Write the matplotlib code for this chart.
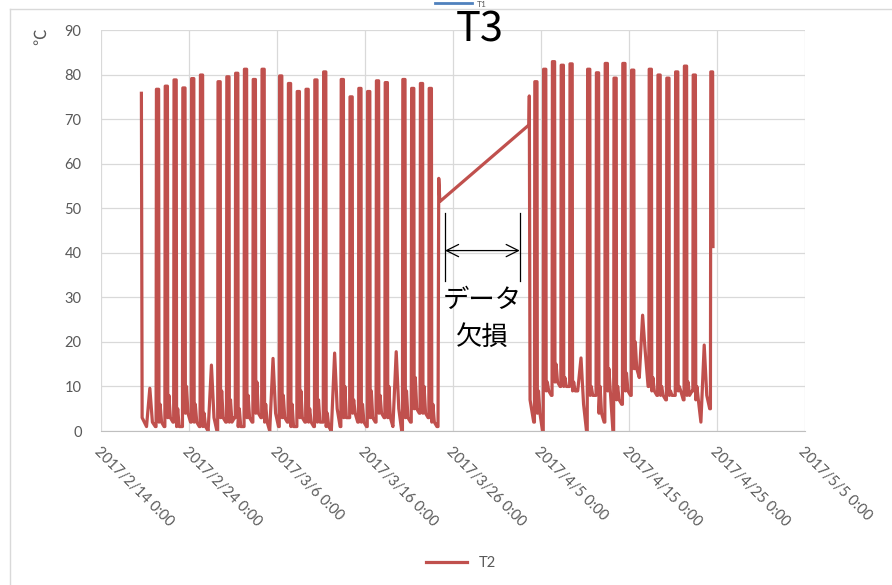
import datetime as dt
import matplotlib
matplotlib.use('Agg')
import matplotlib.pyplot as plt
from matplotlib.lines import Line2D

plt.rcParams['font.family'] = ['Lato', 'Noto Sans CJK JP', 'DejaVu Sans']

# ---- data ----
# section 1: 2017/2/19 .. 3/23, one entry per day (None = no morning peak, Sunday)
days1_start = dt.datetime(2017, 2, 19)
night1 = [1, 1, 1, 2, 1, 2, 1, 0, 0, 2, 3, 1, 2, 3, 0, 1, 2, 1, 2, 1, 2, 0,
          1, 3, 2, 1, 2, 3, 1, 0, 2, 4, 3]
peak1 = [None, 76.7, 77.4, 78.8, 77.0, 79.1, 79.9, None, 78.4, 79.5, 80.3,
         81.2, 78.9, 81.2, None, 79.7, 78.0, 76.2, 76.7, 78.8, 80.6, None,
         78.9, 75.0, 76.9, 76.2, 78.6, 78.2, None, 78.9, 76.9, 78.0, 76.9]
after1 = [9.6, 6, 8, 5, 10, 6, 4, 14.8, 9, 7, 5, 8, 11, 6, 16.3, 8, 6, 9, 5,
          7, 4, 17.5, 10, 7, 6, 9, 8, 10, 17.8, 9, 12, 10, 6]
eve1 = [2, 2, 3, 1, 4, 2, 1, 3, 3, 2, 1, 3, 4, 2, 4, 3, 1, 3, 2, 2, 1, 5,
        3, 4, 2, 3, 4, 3, 5, 3, 5, 4, 2]

# section 2: 2017/4/4 .. 4/23
days2_start = dt.datetime(2017, 4, 4)
night2 = [2, 0, 8, 10, 10, 9, 0, 8, 2, 0, 6, 8, 12, 10, 8, 7, 8, 7, 9, 2]
peak2 = [78.4, 81.2, 82.9, 82.1, 82.4, None, 81.2, 80.4, 82.5, 79.2, 82.5,
         81.0, None, 81.2, 79.9, 79.2, 80.6, 81.9, 79.9, None]
after2 = [9, 11, 15, 12, 11, 16.4, 10, 10, 14, 10, 13, 20, 26.0, 12, 10, 9,
          10, 11, 10, 19.3]
eve2 = [4, 9, 11, 10, 9, 6, 8, 4, 9, 7, 9, 14, 18, 9, 8, 8, 9, 8, 7, 8]

# partial days at the edges of the record (time, value)
head_t = [dt.datetime(2017, 2, 18, 14), dt.datetime(2017, 2, 18, 16)]
head_v = [75.8, 3]
gap_in_t = [dt.datetime(2017, 3, 24, 4), dt.datetime(2017, 3, 24, 7),
            dt.datetime(2017, 3, 24, 9), dt.datetime(2017, 3, 24, 12)]
gap_in_v = [1, 1, 56.7, 51.5]
gap_out_t = [dt.datetime(2017, 4, 3, 15), dt.datetime(2017, 4, 3, 16),
             dt.datetime(2017, 4, 3, 18)]
gap_out_v = [68.7, 75.2, 7]
tail_t = [dt.datetime(2017, 4, 24, 4), dt.datetime(2017, 4, 24, 6),
          dt.datetime(2017, 4, 24, 7), dt.datetime(2017, 4, 24, 12),
          dt.datetime(2017, 4, 24, 13)]
tail_v = [5, 5, 80.6, 80.6, 41.4]

tick_dates = [dt.datetime(2017, 2, 14), dt.datetime(2017, 2, 24),
              dt.datetime(2017, 3, 6), dt.datetime(2017, 3, 16),
              dt.datetime(2017, 3, 26), dt.datetime(2017, 4, 5),
              dt.datetime(2017, 4, 15), dt.datetime(2017, 4, 25),
              dt.datetime(2017, 5, 5)]

gap_left = dt.datetime(2017, 3, 25, 2)
gap_right = dt.datetime(2017, 4, 2, 14)


def day_points(start, night, peak, after, eve):
    t, v = [], []
    for i in range(len(night)):
        d = start + dt.timedelta(days=i)
        h = lambda x: d + dt.timedelta(hours=x)
        if peak[i] is None:
            t += [h(4), h(13), h(20)]
            v += [night[i], after[i], eve[i]]
        else:
            t += [h(4), h(6), h(7), h(13), h(14), h(17), h(21)]
            v += [night[i], night[i], peak[i], peak[i], eve[i], after[i], eve[i]]
    return t, v


t1, v1 = day_points(days1_start, night1, peak1, after1, eve1)
t2, v2 = day_points(days2_start, night2, peak2, after2, eve2)
times = head_t + t1 + gap_in_t + gap_out_t + t2 + tail_t
vals = head_v + v1 + gap_in_v + gap_out_v + v2 + tail_v

# ---- figure ----
fig = plt.figure(figsize=(8.92, 5.85), dpi=100)
ax = fig.add_axes([0.1133, 0.2632, 0.7892, 0.6855])

ax.plot(times, vals, color='#C0504D', lw=2.3, label='T2', solid_joinstyle='round')

ax.set_xlim(tick_dates[0], tick_dates[-1])
ax.set_ylim(0, 90)
ax.set_yticks(range(0, 91, 10))
ax.set_xticks(tick_dates)
ax.set_xticklabels([f'{d.year}/{d.month}/{d.day} 0:00' for d in tick_dates],
                   rotation=-45, ha='left', rotation_mode='anchor')
ax.tick_params(axis='both', length=0, colors='#595959', labelsize=10.5)
ax.tick_params(axis='x', pad=10)
ax.tick_params(axis='y', pad=14)
ax.grid(True, color='#d9d9d9', lw=0.9)
ax.set_axisbelow(True)
for s in ['top', 'right', 'left']:
    ax.spines[s].set_visible(False)
ax.spines['bottom'].set_color('#bfbfbf')

# gap annotation
for g in (gap_left, gap_right):
    ax.plot([g, g], [33.7, 48.9], color='black', lw=0.9)
ax.annotate('', xy=(gap_left, 40.5), xytext=(gap_right, 40.5),
            arrowprops=dict(arrowstyle='<->', color='black', lw=0.9,
                            mutation_scale=22, shrinkA=0, shrinkB=0))
mid = gap_left + (gap_right - gap_left) / 2
ax.text(mid, 29.4, 'データ', ha='center', va='center', fontsize=19,
        family=['Noto Sans CJK JP'])
ax.text(mid, 21.1, '欠損', ha='center', va='center', fontsize=19,
        family=['Noto Sans CJK JP'])

# title, unit and legend
fig.text(0.538, 0.949, 'T3', ha='center', va='center', fontsize=30,
         family=['Noto Sans CJK JP'])
fig.text(0.046, 0.938, '℃', rotation=90, ha='center', va='center',
         fontsize=12, color='#595959', family=['Noto Sans CJK JP'])
fig.legend(loc='center', bbox_to_anchor=(0.517, 0.038), frameon=False,
           fontsize=10.5, labelcolor='#595959', handlelength=2.8)

# chart frame and the legend of the chart above
fig.add_artist(Line2D([0.0112, 1], [0.9846, 0.9846], color='#d9d9d9', lw=1,
                      transform=fig.transFigure))
fig.add_artist(Line2D([0.0112, 0.0112], [0, 0.9846], color='#d9d9d9', lw=1,
                      transform=fig.transFigure))
fig.add_artist(Line2D([0.488, 0.529], [0.995, 0.995], color='#4F81BD', lw=2,
                      transform=fig.transFigure))
fig.text(0.535, 0.999, 'T1', ha='left', va='top', fontsize=6, color='#595959')

fig.savefig('out.png', dpi=100)
